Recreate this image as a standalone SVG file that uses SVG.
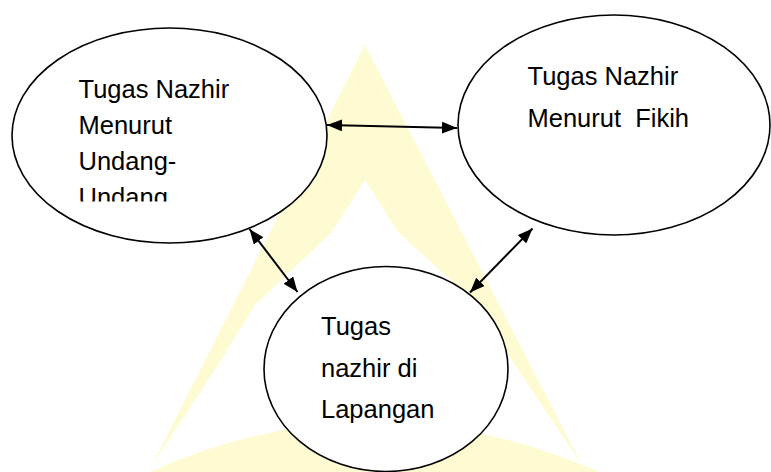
<svg xmlns="http://www.w3.org/2000/svg" width="771" height="472" viewBox="0 0 771 472">
  <style>
    .node { fill: #ffffff; stroke: #000000; stroke-width: 1.6; }
    .label { font-family: "Liberation Sans", Arial, sans-serif; font-size: 25.5px; fill: #000000; }
    .conn { stroke: #000000; stroke-width: 2; fill: none; marker-start: url(#arrow); marker-end: url(#arrow); }
    .wm { fill: #fefbd3; }
  </style>
  <defs>
    <marker id="arrow" viewBox="0 0 15 12" refX="15" refY="6" markerWidth="15" markerHeight="12" markerUnits="userSpaceOnUse" orient="auto-start-reverse">
      <path d="M0,0 L15,6 L0,12 Z" fill="#000000"/>
    </marker>
    <clipPath id="clipLeft">
      <rect x="0" y="0" width="771" height="201.5"/>
    </clipPath>
  </defs>

  <rect x="0" y="0" width="771" height="472" fill="#ffffff"/>

  <!-- watermark -->
  <g id="watermark">
    <path class="wm" d="M365,45 L152,465 L218,365 L255,305 L332,232 L365,180 L398,232 L478,305 L515,365 L582,465 Z"/>
    <path class="wm" d="M150,472 Q370,372 600,472 Z"/>
  </g>

  <!-- connectors -->
  <g id="connectors">
    <line class="conn" x1="327" y1="125" x2="457" y2="128"/>
    <line class="conn" x1="249.5" y1="229" x2="297.5" y2="292"/>
    <line class="conn" x1="532.5" y1="228.5" x2="470" y2="292.5"/>
  </g>

  <g id="node-undang">
    <ellipse class="node" cx="169.5" cy="135.5" rx="157.5" ry="107.5"/>
    <g clip-path="url(#clipLeft)">
      <text class="label" x="78.5" y="98">Tugas Nazhir</text>
      <text class="label" x="78.5" y="134">Menurut</text>
      <text class="label" x="78.5" y="170">Undang-</text>
      <text class="label" x="78.5" y="206">Undang</text>
    </g>
  </g>

  <g id="node-fikih">
    <ellipse class="node" cx="614" cy="125" rx="156" ry="110"/>
    <text class="label" x="527.5" y="85">Tugas Nazhir</text>
    <text class="label" x="527.5" y="127" xml:space="preserve">Menurut  Fikih</text>
  </g>

  <g id="node-lapangan">
    <ellipse class="node" cx="386" cy="369" rx="122" ry="102.5"/>
    <text class="label" x="321" y="335">Tugas</text>
    <text class="label" x="321" y="377">nazhir di</text>
    <text class="label" x="321" y="418">Lapangan</text>
  </g>
</svg>
